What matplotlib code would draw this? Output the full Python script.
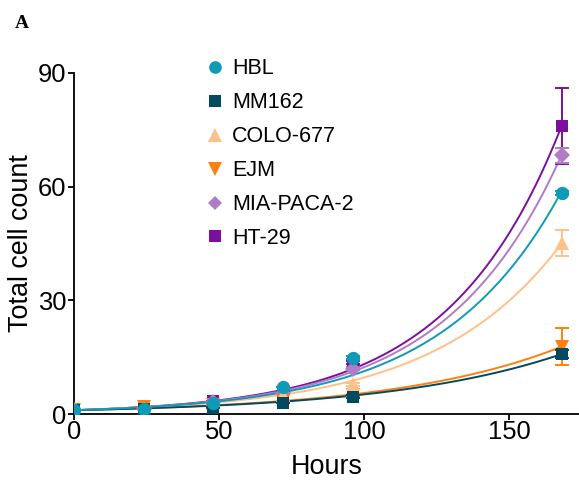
import numpy as np
import matplotlib
matplotlib.use("Agg")
import matplotlib.pyplot as plt

plt.rcParams['font.family'] = ['Liberation Sans', 'DejaVu Sans']

hours = [0, 24, 48, 72, 96, 168]
names = ["HBL", "MM162", "COLO-677", "EJM", "MIA-PACA-2", "HT-29"]
hbl = [1.0, 1.45, 3.0, 7.0, 14.9, 58.3]
mm162 = [1.0, 1.3, 1.7, 3.0, 4.6, 15.9]
colo677 = [1.0, 1.4, 2.8, 5.0, 7.8, 45.1]
ejm = [1.0, 1.8, 2.5, 3.5, 5.0, 17.8]
miapaca2 = [1.0, 1.45, 3.1, 5.5, 12.0, 68.3]
ht29 = [1.0, 1.45, 3.3, 5.9, 13.6, 75.9]
err_hbl = [0, 0, 0, 0, 0.5, 0.5]
err_mm162 = [0, 0, 0, 0, 0.3, 1.0]
err_colo677 = [0, 0, 0, 0, 0.5, 3.5]
err_ejm = [0, 0, 0, 0, 0.4, 5.0]
err_miapaca2 = [0, 0, 0, 0, 0.5, 2.0]
err_ht29 = [0, 0, 0, 0, 0.5, 10.0]

series = [hbl, mm162, colo677, ejm, miapaca2, ht29]
errors = [err_hbl, err_mm162, err_colo677, err_ejm, err_miapaca2, err_ht29]
colors = ["#0f9bb5", "#03495f", "#ffc08a", "#ff7f0e", "#b07cc6", "#7b0f9e"]
markers = ["o", "s", "^", "v", "D", "s"]
msizes = [9.6, 9.2, 10, 10, 8, 9.2]


def exp_fit(x, y):
    """Least squares fit of y = y0*exp(k*x) with y0 fixed at the first (normalised) value."""
    y0 = y[0]
    ks = np.linspace(0.0, 0.06, 6001)
    sse = [np.sum((y - y0 * np.exp(k * x)) ** 2) for k in ks]
    return y0, ks[int(np.argmin(sse))]


fig = plt.figure(figsize=(5.79, 4.8), dpi=100)
ax = fig.add_axes([0.128, 0.1375, 0.872, 0.7105])

x = np.array(hours, dtype=float)
xf = np.linspace(0, 168, 300)
order = list(range(6))[::-1]
for i in order:
    y = np.array(series[i], dtype=float)
    a, k = exp_fit(x, y)
    ax.plot(xf, a * np.exp(k * xf), color=colors[i], lw=1.4, zorder=2)
    ax.errorbar(x, y, yerr=errors[i], fmt='none', ecolor=colors[i],
                elinewidth=1.4, capsize=4.7, capthick=1.4, zorder=3)
    ax.plot(x, y, linestyle='none', marker=markers[i], ms=msizes[i],
            color=colors[i], markeredgewidth=0, zorder=4)

handles = []
for i in range(6):
    h, = ax.plot([], [], linestyle='none', marker=markers[i], ms=msizes[i] * 0.95,
                 color=colors[i], markeredgewidth=0)
    handles.append(h)
leg = ax.legend(handles, names, loc='upper left', bbox_to_anchor=(0.24, 1.068),
                frameon=False, fontsize=15.5, handletextpad=0.3, labelspacing=0.6,
                handlelength=1.0, borderaxespad=0)

ax.set_xlim(0, 174)
ax.set_ylim(0, 90)
ax.set_xticks([0, 50, 100, 150])
ax.set_yticks([0, 30, 60, 90])
ax.spines['top'].set_visible(False)
ax.spines['right'].set_visible(False)
ax.spines['left'].set_linewidth(1.3)
ax.spines['bottom'].set_linewidth(1.3)
ax.tick_params(labelsize=18.4, width=1.3, length=4)
ax.tick_params(axis='x', pad=0.5)
ax.tick_params(axis='y', pad=1.5)
ax.set_xlabel("Hours", fontsize=19.4, labelpad=7)
ax.set_ylabel("Total cell count", fontsize=19.4, labelpad=3)

fig.text(0.026, 0.952, "A", fontsize=14, fontweight='bold', family='Liberation Serif',
         va='center', ha='left')

fig.savefig("out.png", dpi=100)
